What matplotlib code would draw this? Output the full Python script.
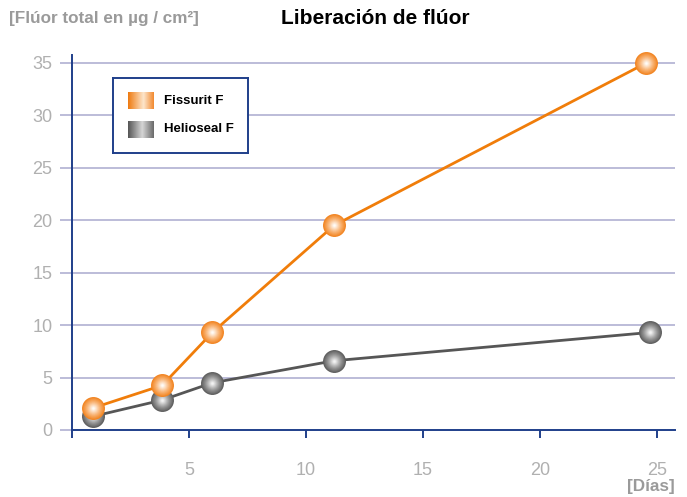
import numpy as np
import matplotlib
matplotlib.use('Agg')
import matplotlib.pyplot as plt
from matplotlib.colors import LinearSegmentedColormap, to_rgb

plt.rcParams['font.family'] = ['Liberation Sans', 'DejaVu Sans']

# datos
dias_fissurit = [0.9, 3.85, 6.0, 11.2, 24.55]
fluor_fissurit = [2.1, 4.25, 9.3, 19.5, 35.0]
dias_helioseal = [0.9, 3.85, 6.0, 11.2, 24.7]
fluor_helioseal = [1.3, 2.85, 4.5, 6.6, 9.3]
series_names = ['Fissurit F', 'Helioseal F']

xticks = [0, 5, 10, 15, 20, 25]
xticklabels = ['', '5', '10', '15', '20', '25']
yticks = [0, 5, 10, 15, 20, 25, 30, 35]

orange = '#f07d0a'
grey = '#565656'
navy = '#1f3f8a'
gridc = '#bcbcd8'
tickc = '#b0b0b0'
labelc = '#9a9a9a'


def blend(c1, c2, t):
    a = np.array(to_rgb(c1))
    b = np.array(to_rgb(c2))
    return tuple(a + (b - a) * t)


def sphere(ax, x, y, edge, mid, center, size=16.5, z=5):
    # marcador tipo esfera con capas
    n = 14
    for i in range(n):
        t = i / (n - 1)
        if t < 0.45:
            c = blend(edge, mid, t / 0.45)
        else:
            c = blend(mid, center, (t - 0.45) / 0.55)
        s = size * (1 - 0.9 * t)
        ax.plot(x, y, 'o', ms=s, color=c, mew=0, zorder=z + i * 0.01, clip_on=False)


fig = plt.figure(figsize=(6.87, 4.97), dpi=100)
ax = fig.add_axes([72 / 687, 1 - 430 / 497, 603 / 687, 375 / 497])

ax.set_xlim(0, 25.77)
ax.set_ylim(0, 35.75)
ax.set_xticks(xticks)
ax.set_xticklabels(xticklabels)
ax.set_yticks(yticks)

for yv in yticks[1:]:
    ax.axhline(yv, color=gridc, lw=1.4, zorder=1)

for s in ['top', 'right']:
    ax.spines[s].set_visible(False)
for s in ['left', 'bottom']:
    ax.spines[s].set_color(navy)
    ax.spines[s].set_linewidth(1.4)

ax.tick_params(axis='x', direction='out', length=6, width=1.4, color=navy,
               pad=17, labelsize=13, labelcolor=tickc)
ax.tick_params(axis='y', direction='out', length=9, width=1.4, color=gridc,
               pad=5, labelsize=13, labelcolor=tickc)

ax.plot(dias_helioseal, fluor_helioseal, color=grey, lw=2, zorder=3, clip_on=False)
ax.plot(dias_fissurit, fluor_fissurit, color=orange, lw=2, zorder=6, clip_on=False)
for x0, y0 in zip(dias_helioseal, fluor_helioseal):
    sphere(ax, x0, y0, '#5e5e5e', '#9a9a9a', '#f2f2f2', z=4)
for x0, y0 in zip(dias_fissurit, fluor_fissurit):
    sphere(ax, x0, y0, '#f28420', '#f9b577', '#fffbf6', z=7)

# textos
fig.text(375 / 687, 1 - 18 / 497, 'Liberación de flúor', ha='center', va='center',
         fontsize=15, fontweight='bold', color='black')
fig.text(9 / 687, 1 - 19 / 497, '[Flúor total en µg / cm²]', ha='left', va='center',
         fontsize=12.3, fontweight='bold', color=labelc)
fig.text(675 / 687, 1 - 487 / 497, '[Días]', ha='right', va='center',
         fontsize=12.3, fontweight='bold', color=labelc)

# leyenda
lax = fig.add_axes([113 / 687, 1 - 153 / 497, 135 / 687, 75 / 497])
lax.set_xlim(0, 135)
lax.set_ylim(75, 0)
lax.set_xticks([])
lax.set_yticks([])
for s in lax.spines.values():
    s.set_color(navy)
    s.set_linewidth(1.4)

grad = np.linspace(0, 1, 100).reshape(1, -1)
cm_or = LinearSegmentedColormap.from_list('or', [(0, '#ee7a10'), (0.6, '#fde6cc'), (1, '#f28a30')])
cm_gr = LinearSegmentedColormap.from_list('gr', [(0, '#555555'), (0.55, '#d6d6d6'), (1, '#6a6a6a')])
lax.imshow(grad, cmap=cm_or, aspect='auto', extent=[15, 41, 31, 14])
lax.imshow(grad, cmap=cm_gr, aspect='auto', extent=[15, 41, 60, 43])
lax.text(51, 22.5, series_names[0], ha='left', va='center', fontsize=9.5, fontweight='bold')
lax.text(51, 51.5, series_names[1], ha='left', va='center', fontsize=9.5, fontweight='bold')

fig.savefig('out.png', dpi=100)
